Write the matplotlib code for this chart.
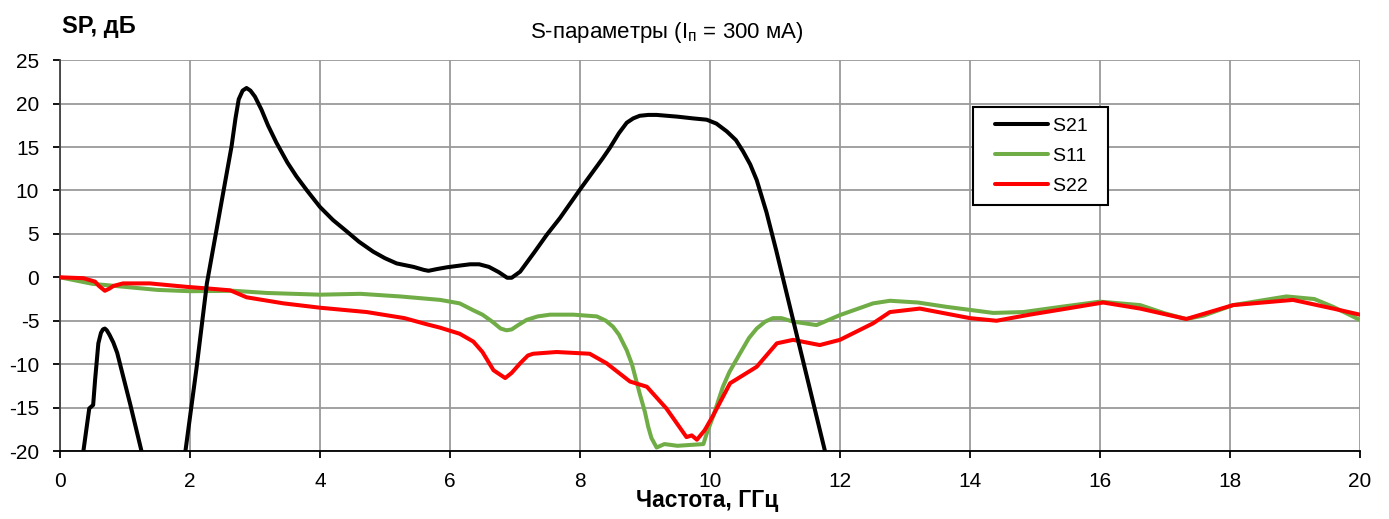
import numpy as np
import matplotlib
matplotlib.use("Agg")
import matplotlib.pyplot as plt
from matplotlib.lines import Line2D
from matplotlib.legend_handler import HandlerLine2D

plt.rcParams['font.family'] = ['Liberation Sans', 'DejaVu Sans']
plt.rcParams['axes.unicode_minus'] = False

# S21, two visible pieces (gap = below -20 dB)
s21_f_a = [0.36, 0.45, 0.51, 0.54, 0.59, 0.63, 0.66, 0.69, 0.72, 0.76, 0.82, 0.88, 1.08, 1.26]
s21_db_a = [-20.0, -15.1, -14.7, -11.8, -7.6, -6.4, -6.0, -5.9, -6.1, -6.6, -7.5, -8.7, -14.6, -20.2]

s21_f_b = [1.93, 2.1, 2.26, 2.51, 2.64, 2.70, 2.75, 2.81, 2.87, 2.93, 3.0, 3.1, 3.2, 3.33,
           3.5, 3.64, 3.8, 4.0, 4.2, 4.41, 4.6, 4.82, 5.0, 5.18, 5.44, 5.6, 5.67, 5.8, 5.95,
           6.15, 6.31, 6.45, 6.6, 6.75, 6.88, 6.95, 7.08, 7.3, 7.49, 7.69, 8.0, 8.35, 8.46,
           8.6, 8.72, 8.82, 8.92, 9.05, 9.18, 9.5, 9.74, 9.95, 10.1, 10.26, 10.4, 10.51,
           10.62, 10.72, 10.87, 11.02, 11.77]
s21_db_b = [-20.0, -10.5, -0.7, 9.7, 15.1, 18.3, 20.5, 21.5, 21.8, 21.5, 20.8, 19.3, 17.5,
            15.5, 13.2, 11.6, 10.0, 8.1, 6.6, 5.3, 4.1, 2.95, 2.2, 1.6, 1.2, 0.85, 0.75,
            0.95, 1.15, 1.35, 1.5, 1.5, 1.2, 0.6, -0.05, -0.05, 0.65, 2.9, 4.9, 6.8, 10.1,
            13.7, 14.9, 16.6, 17.8, 18.3, 18.6, 18.7, 18.7, 18.5, 18.3, 18.15, 17.7, 16.8,
            15.8, 14.5, 13.0, 11.2, 7.5, 3.1, -20.0]

s11_f = [0, 0.5, 1.0, 1.5, 2.0, 2.67, 3.18, 4.0, 4.62, 5.23, 5.85, 6.15, 6.36, 6.5, 6.65,
         6.78, 6.87, 6.95, 7.05, 7.18, 7.35, 7.54, 7.9, 8.26, 8.4, 8.51, 8.6, 8.72, 8.8,
         8.92, 9.0, 9.05, 9.1, 9.18, 9.3, 9.5, 9.7, 9.9, 9.95, 10.05, 10.2, 10.3, 10.46,
         10.6, 10.72, 10.85, 10.97, 11.1, 11.28, 11.64, 12.0, 12.51, 12.77, 13.2, 13.64,
         14.36, 14.82, 15.4, 16.0, 16.62, 17.0, 17.33, 17.6, 18.05, 18.87, 19.3, 19.59, 20.0]
s11_db = [0, -0.75, -1.1, -1.45, -1.6, -1.55, -1.8, -2.0, -1.9, -2.2, -2.6, -3.0, -3.8,
          -4.3, -5.1, -5.9, -6.1, -6.0, -5.5, -4.9, -4.5, -4.3, -4.3, -4.5, -5.0, -5.7,
          -6.6, -8.4, -10.0, -13.4, -15.5, -17.2, -18.5, -19.6, -19.2, -19.4, -19.3, -19.2,
          -18.0, -16.0, -12.6, -10.9, -8.8, -7.0, -5.9, -5.1, -4.7, -4.7, -5.1, -5.5, -4.35,
          -3.0, -2.7, -2.9, -3.4, -4.1, -4.0, -3.4, -2.8, -3.2, -4.15, -4.8, -4.4, -3.2,
          -2.2, -2.5, -3.4, -4.9]

s22_f = [0, 0.36, 0.54, 0.6, 0.69, 0.76, 0.82, 0.97, 1.38, 1.95, 2.3, 2.62, 2.87, 3.44,
         4.0, 4.72, 5.3, 5.64, 5.85, 6.15, 6.36, 6.5, 6.67, 6.85, 6.95, 7.08, 7.2, 7.28,
         7.64, 8.15, 8.41, 8.77, 9.03, 9.33, 9.64, 9.72, 9.8, 9.92, 10.05, 10.31, 10.72,
         11.03, 11.28, 11.69, 12.0, 12.51, 12.77, 13.23, 14.0, 14.41, 14.92, 15.49, 16.05,
         16.62, 17.33, 18.05, 18.97, 19.59, 20.0]
s22_db = [0, -0.1, -0.5, -1.0, -1.55, -1.3, -1.0, -0.7, -0.7, -1.1, -1.3, -1.5, -2.3, -3.0,
          -3.5, -4.0, -4.7, -5.4, -5.8, -6.5, -7.4, -8.6, -10.7, -11.6, -11.0, -9.9, -9.0,
          -8.8, -8.6, -8.8, -9.9, -12.0, -12.6, -15.1, -18.4, -18.2, -18.7, -17.6, -15.9,
          -12.2, -10.3, -7.6, -7.2, -7.8, -7.2, -5.3, -4.0, -3.6, -4.7, -5.0, -4.3, -3.6,
          -2.9, -3.6, -4.8, -3.2, -2.6, -3.6, -4.3]

x_ticks = [0, 2, 4, 6, 8, 10, 12, 14, 16, 18, 20]
y_ticks = [-20, -15, -10, -5, 0, 5, 10, 15, 20, 25]

fig = plt.figure(figsize=(13.89, 5.19), dpi=100)
ax = fig.add_axes([0.0432, 0.131, 0.9358, 0.753])

kw = dict(lw=2.9, solid_joinstyle='round', solid_capstyle='round')
ax.plot(s21_f_a, s21_db_a, color='black', zorder=4, label='S21  ', **kw)
ax.plot(s21_f_b, s21_db_b, color='black', zorder=4, **kw)
ax.plot(s11_f, s11_db, color='#70AD47', zorder=2, label='S11  ', **kw)
ax.plot(s22_f, s22_db, color='#FF0000', zorder=3, label='S22  ', **kw)

ax.set_xlim(0, 20)
ax.set_ylim(-20, 25)
ax.set_xticks(x_ticks)
ax.set_yticks(y_ticks)
ax.grid(True, color='#9a9a9a', lw=1.3)
ax.set_axisbelow(True)
for s in ['top', 'right']:
    ax.spines[s].set_visible(False)
ax.spines['left'].set_color('#404040')
ax.spines['bottom'].set_color('black')
ax.spines['left'].set_linewidth(1.3)
ax.spines['bottom'].set_linewidth(1.3)
ax.tick_params(axis='both', labelsize=15, length=5, width=1.3, direction='out')
ax.tick_params(axis='x', pad=10)
ax.tick_params(axis='y', pad=10)

leg = fig.legend(loc='upper left', bbox_to_anchor=(0.7003, 0.7933), fontsize=14,
                 fancybox=False, edgecolor='black', framealpha=1, borderaxespad=0,
                 handlelength=4.04, handletextpad=-0.43, labelspacing=0.65, borderpad=0.5,
                 handler_map={Line2D: HandlerLine2D(marker_pad=0.67, numpoints=2)})
leg.get_frame().set_linewidth(1.5)

fig.text(0.48, 0.938, r'S-параметры ($\mathregular{I_п}$ = 300 мА)', fontsize=16,
         ha='center', va='center')
fig.text(0.0446, 0.948, 'SP, дБ', fontsize=17, fontweight='bold', ha='left', va='center')
fig.text(0.509, 0.035, 'Частота, ГГц', fontsize=16.5, fontweight='bold', ha='center', va='center')

fig.savefig('out.png', dpi=100)
